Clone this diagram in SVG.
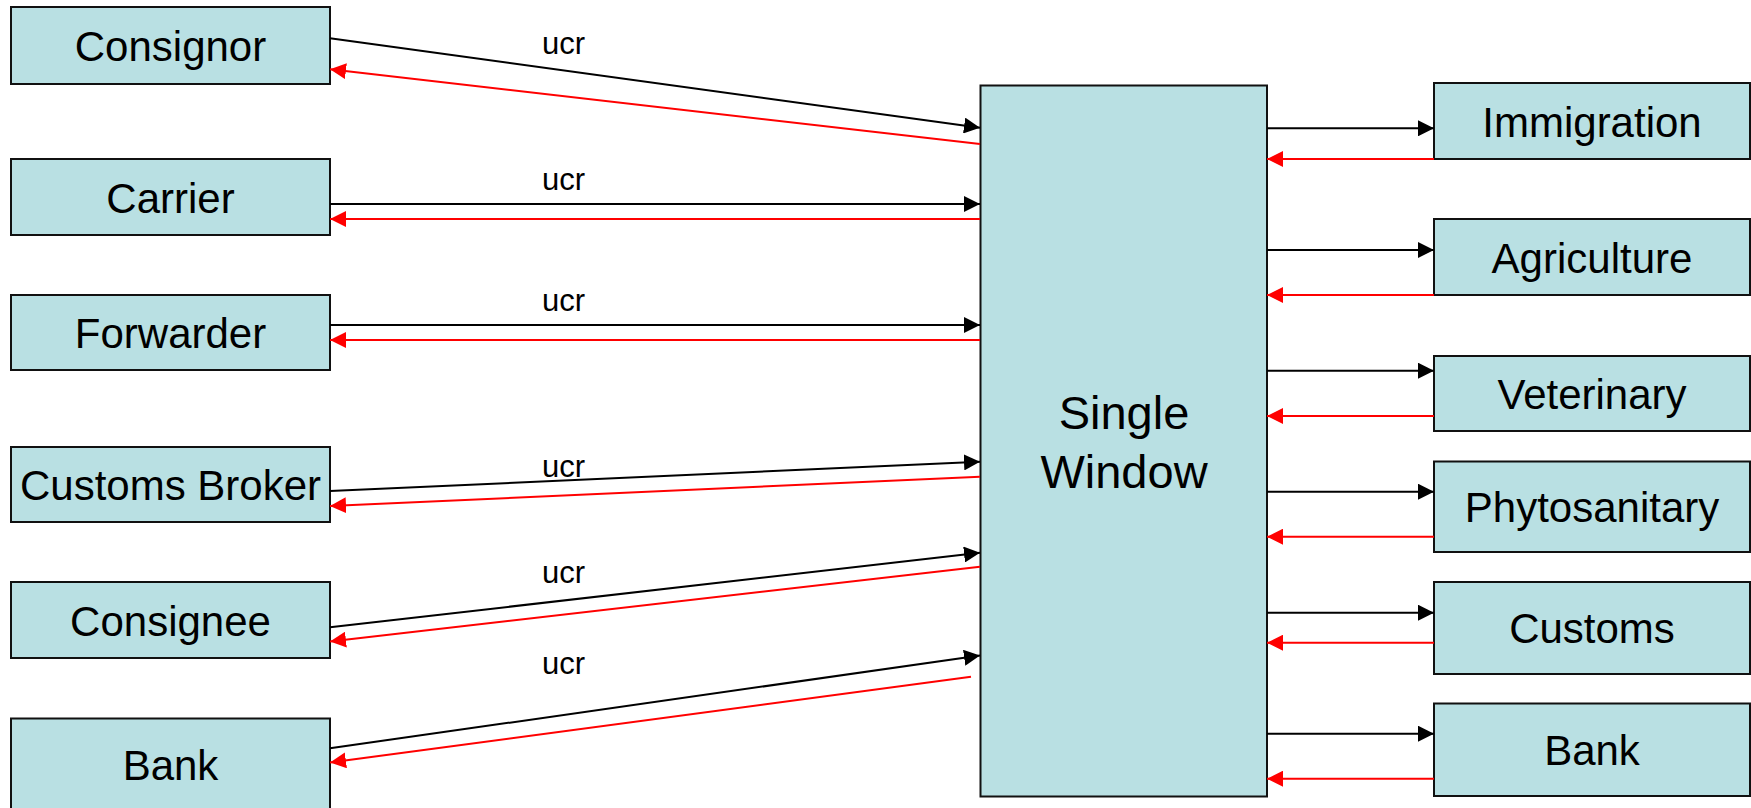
<svg xmlns="http://www.w3.org/2000/svg" width="1751" height="808" viewBox="0 0 1751 808">
<style>
.box{fill:#b9e0e3;stroke:#111;stroke-width:2}
.lbl{font-family:"Liberation Sans",Arial,sans-serif;font-size:42px;fill:#000;text-anchor:middle}
.big{font-size:47px}
.ucr{font-family:"Liberation Sans",Arial,sans-serif;font-size:31px;fill:#000;text-anchor:middle}
.blk{stroke:#000;stroke-width:2;fill:none;marker-end:url(#ab)}
.red{stroke:#ff0000;stroke-width:2;fill:none;marker-end:url(#ar)}
</style>
<defs>
<marker id="ab" markerUnits="userSpaceOnUse" markerWidth="16" markerHeight="16" refX="16" refY="8" orient="auto"><path d="M0,0 L16,8 L0,16 z" fill="#000"/></marker>
<marker id="ar" markerUnits="userSpaceOnUse" markerWidth="16" markerHeight="16" refX="16" refY="8" orient="auto"><path d="M0,0 L16,8 L0,16 z" fill="#ff0000"/></marker>
</defs>
<rect width="1751" height="808" fill="#fff"/>
<g id="consignor"><rect class="box" x="11" y="7" width="319" height="77"/><text class="lbl" x="170.5" y="61">Consignor</text></g>
<g id="carrier"><rect class="box" x="11" y="159" width="319" height="76"/><text class="lbl" x="170.5" y="212.5">Carrier</text></g>
<g id="forwarder"><rect class="box" x="11" y="295" width="319" height="75"/><text class="lbl" x="170.5" y="348">Forwarder</text></g>
<g id="customs-broker"><rect class="box" x="11" y="447" width="319" height="75"/><text class="lbl" x="170.5" y="500">Customs Broker</text></g>
<g id="consignee"><rect class="box" x="11" y="582" width="319" height="76"/><text class="lbl" x="170.5" y="635.5">Consignee</text></g>
<g id="bank-left"><rect class="box" x="11" y="718.5" width="319" height="110"/><text class="lbl" x="170.5" y="779.5">Bank</text></g>
<g id="single-window"><rect class="box" x="980.5" y="85.5" width="286.5" height="711"/><text class="lbl big" x="1124" y="428.5">Single</text><text class="lbl big" x="1124" y="487.5">Window</text></g>
<g id="immigration"><rect class="box" x="1434" y="83" width="316" height="76"/><text class="lbl" x="1592" y="136.5">Immigration</text></g>
<g id="agriculture"><rect class="box" x="1434" y="219" width="316" height="76"/><text class="lbl" x="1592" y="272.5">Agriculture</text></g>
<g id="veterinary"><rect class="box" x="1434" y="356" width="316" height="75"/><text class="lbl" x="1592" y="409">Veterinary</text></g>
<g id="phytosanitary"><rect class="box" x="1434" y="461.5" width="316" height="90.5"/><text class="lbl" x="1592" y="522">Phytosanitary</text></g>
<g id="customs"><rect class="box" x="1434" y="582" width="316" height="92"/><text class="lbl" x="1592" y="643">Customs</text></g>
<g id="bank-right"><rect class="box" x="1434" y="703.5" width="316" height="92.5"/><text class="lbl" x="1592" y="765">Bank</text></g>
<g id="connectors">
<line class="blk" x1="330" y1="38.3" x2="980" y2="127.7"/>
<line class="red" x1="980" y1="144" x2="330" y2="69.3"/>
<line class="blk" x1="330" y1="204" x2="980" y2="204"/>
<line class="red" x1="980" y1="219" x2="330" y2="219"/>
<line class="blk" x1="330" y1="325" x2="980" y2="325"/>
<line class="red" x1="980" y1="340" x2="330" y2="340"/>
<line class="blk" x1="330" y1="491" x2="980" y2="461.7"/>
<line class="red" x1="980" y1="476.7" x2="330" y2="506"/>
<line class="blk" x1="330" y1="627.3" x2="980" y2="552.7"/>
<line class="red" x1="980" y1="566.7" x2="330" y2="641.5"/>
<line class="blk" x1="330" y1="748.3" x2="980" y2="655.5"/>
<line class="red" x1="971" y1="676.7" x2="330" y2="762.5"/>
<line class="blk" x1="1267" y1="128.3" x2="1434" y2="128.3"/>
<line class="red" x1="1434" y1="159" x2="1267" y2="159"/>
<line class="blk" x1="1267" y1="250" x2="1434" y2="250"/>
<line class="red" x1="1434" y1="295" x2="1267" y2="295"/>
<line class="blk" x1="1267" y1="370.7" x2="1434" y2="370.7"/>
<line class="red" x1="1434" y1="416" x2="1267" y2="416"/>
<line class="blk" x1="1267" y1="491.7" x2="1434" y2="491.7"/>
<line class="red" x1="1434" y1="536.7" x2="1267" y2="536.7"/>
<line class="blk" x1="1267" y1="612.7" x2="1434" y2="612.7"/>
<line class="red" x1="1434" y1="642.7" x2="1267" y2="642.7"/>
<line class="blk" x1="1267" y1="733.7" x2="1434" y2="733.7"/>
<line class="red" x1="1434" y1="778.7" x2="1267" y2="778.7"/>
<text class="ucr" x="563.5" y="53.5">ucr</text>
<text class="ucr" x="563.5" y="190">ucr</text>
<text class="ucr" x="563.5" y="310.7">ucr</text>
<text class="ucr" x="563.5" y="477.3">ucr</text>
<text class="ucr" x="563.5" y="582.7">ucr</text>
<text class="ucr" x="563.5" y="674">ucr</text>
</g>
</svg>
